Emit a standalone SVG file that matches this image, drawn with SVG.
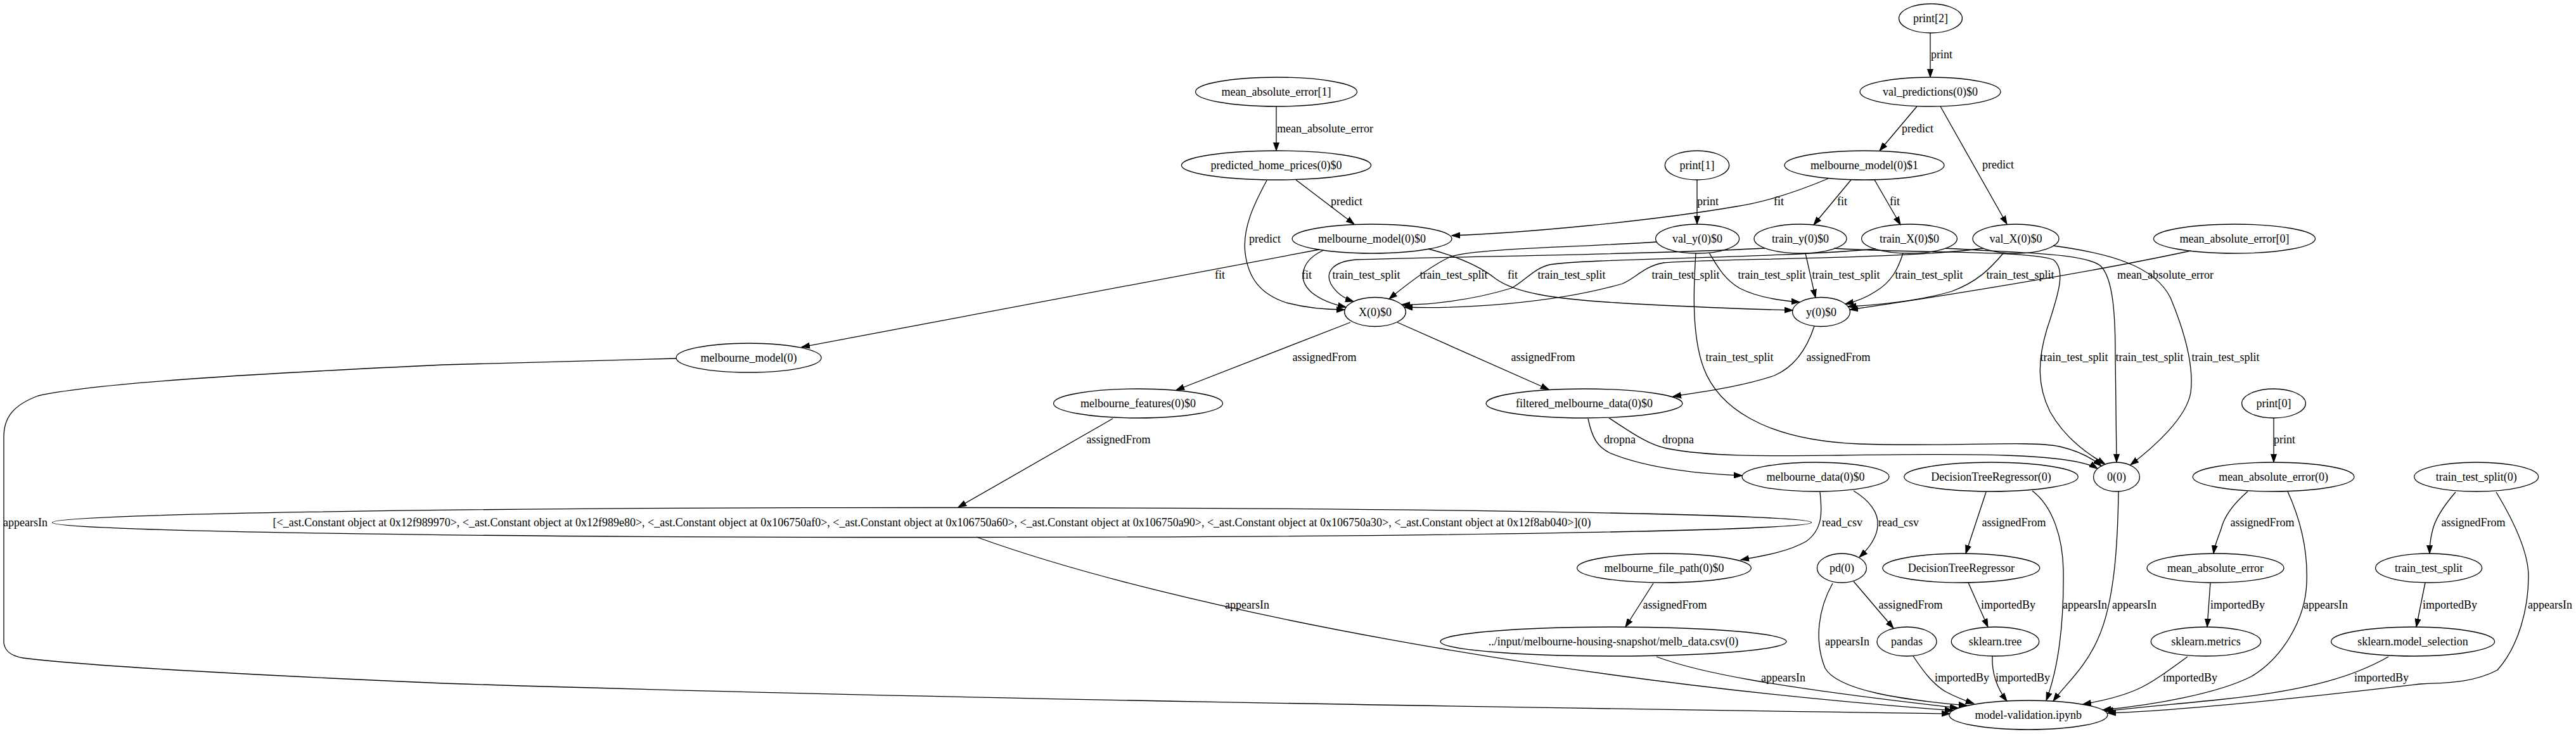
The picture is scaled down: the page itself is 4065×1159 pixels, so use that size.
<svg xmlns="http://www.w3.org/2000/svg" width="4065" height="1159" viewBox="0 0 4065 1159">
<style>
.n ellipse{fill:none;stroke:#000;stroke-width:1.3}
text{font-family:"Liberation Serif","Times New Roman",serif;font-size:18px;text-anchor:middle;fill:#000}
.e path{fill:none;stroke:#000;stroke-width:1.3;marker-end:url(#ah)}
</style>
<defs>
<marker id="ah" markerUnits="userSpaceOnUse" markerWidth="14" markerHeight="10" refX="13" refY="5" orient="auto">
<path d="M0,0.5 L13,5 L0,9.5 z" fill="#000" stroke="#000" stroke-width="1"/>
</marker>
</defs>
<rect width="4065" height="1159" fill="#fff"/>
<g id="edges" class="e">
<g><path d="M3046,52 L3046,122"/><text x="3064" y="92">print</text></g>
<g><path d="M3025,168 L2966,238"/><text x="3026" y="209">predict</text></g>
<g><path d="M3062,168 L3167,354"/><text x="3153" y="266">predict</text></g>
<g><path d="M2014,168 L2014,238"/><text x="2091" y="209">mean_absolute_error</text></g>
<g><path d="M2045,284 L2137,354"/><text x="2125" y="324">predict</text></g>
<g><path d="M1999,285 C1980,320 1960,360 1965,400 C1970,440 1990,465 2030,478 C2060,486 2095,489 2122,489"/><text x="1996" y="383">predict</text></g>
<g><path d="M2678,284 L2678,354"/><text x="2695" y="324">print</text></g>
<g><path d="M2885,282 C2830,305 2780,320 2740,326 C2600,350 2400,368 2291,372"/><text x="2807" y="324">fit</text></g>
<g><path d="M2921,284 L2862,355"/><text x="2907" y="324">fit</text></g>
<g><path d="M2958,284 L2999,355"/><text x="2990" y="324">fit</text></g>
<g><path d="M2082,394 L1265,548"/><text x="1925" y="440">fit</text></g>
<g><path d="M2089,395 C2055,410 2045,440 2070,462 C2085,474 2105,481 2124,485"/><text x="2062" y="440">fit</text></g>
<g><path d="M2254,393 C2300,405 2335,420 2360,440 C2390,462 2450,472 2550,478 C2650,484 2760,488 2829,490"/><text x="2387" y="440">fit</text></g>
<g><path d="M2785,392 C2600,402 2300,405 2140,410 C2100,413 2092,432 2100,448 C2108,462 2120,471 2136,476"/><text x="2156" y="440">train_test_split</text></g>
<g><path d="M2614,382 C2500,390 2330,392 2290,405 C2260,418 2225,445 2192,472"/><text x="2294" y="440">train_test_split</text></g>
<g><path d="M2960,393 C2800,408 2500,408 2445,418 C2420,424 2405,445 2385,455 C2320,475 2250,482 2212,481"/><text x="2480" y="440">train_test_split</text></g>
<g><path d="M3130,392 C3000,410 2700,408 2625,415 C2595,420 2580,440 2560,448 C2450,480 2300,488 2216,485"/><text x="2660" y="440">train_test_split</text></g>
<g><path d="M2697,399 C2710,420 2720,440 2745,455 C2770,468 2800,474 2840,477"/><text x="2796" y="440">train_test_split</text></g>
<g><path d="M2849,400 C2855,425 2860,450 2865,470"/><text x="2913" y="440">train_test_split</text></g>
<g><path d="M3003,400 C2995,425 2985,445 2960,460 C2945,470 2925,477 2912,480"/><text x="3044" y="440">train_test_split</text></g>
<g><path d="M3162,399 C3140,425 3120,445 3080,460 C3030,475 2960,482 2916,484"/><text x="3188" y="440">train_test_split</text></g>
<g><path d="M3457,396 C3300,430 3050,470 2919,489"/><text x="3417" y="440">mean_absolute_error</text></g>
<g><path d="M2676,400 C2672,460 2670,530 2688,580 C2710,640 2780,695 2934,701 C3080,706 3200,695 3250,705 C3280,712 3300,722 3316,736"/><text x="2745" y="570">train_test_split</text></g>
<g><path d="M2894,392 C3000,400 3200,395 3240,410 C3260,425 3250,460 3230,520 C3215,570 3215,610 3235,650 C3260,695 3300,720 3322,733"/><text x="3273" y="570">train_test_split</text></g>
<g><path d="M3070,392 C3200,400 3290,400 3315,420 C3335,440 3338,500 3338,560 C3339,640 3340,700 3340,730"/><text x="3392" y="570">train_test_split</text></g>
<g><path d="M3240,388 C3330,400 3400,420 3425,470 C3450,530 3462,580 3457,620 C3450,660 3400,705 3362,734"/><text x="3512" y="570">train_test_split</text></g>
<g><path d="M2131,509 L1856,616"/><text x="2090" y="570">assignedFrom</text></g>
<g><path d="M2205,509 L2444,615"/><text x="2435" y="570">assignedFrom</text></g>
<g><path d="M2863,515 C2850,555 2830,580 2800,593 C2750,610 2690,618 2640,626"/><text x="2901" y="570">assignedFrom</text></g>
<g><path d="M1756,661 L1512,801"/><text x="1765" y="700">assignedFrom</text></g>
<g><path d="M2506,661 C2512,690 2520,705 2540,715 C2600,740 2680,748 2749,751"/><text x="2556" y="700">dropna</text></g>
<g><path d="M2539,660 C2570,680 2600,702 2630,708 C2700,722 2800,720 2900,719 C3100,716 3270,715 3310,740"/><text x="2648" y="700">dropna</text></g>
<g><path d="M2872,777 C2875,805 2878,835 2850,855 C2820,872 2780,878 2747,884"/><text x="2907" y="831">read_csv</text></g>
<g><path d="M2925,775 C2950,790 2965,810 2963,830 C2962,848 2950,865 2934,880"/><text x="2996" y="831">read_csv</text></g>
<g><path d="M2609,921 L2565,990"/><text x="2643" y="961">assignedFrom</text></g>
<g><path d="M2614,1037 C2680,1062 2800,1085 3090,1118"/><text x="2814" y="1076">appearsIn</text></g>
<g><path d="M1541,848 C1850,960 2450,1075 3082,1122"/><text x="1968" y="961">appearsIn</text></g>
<g><path d="M1067,566 L700,576 C400,590 150,605 60,625 C20,640 6,660 6,690 L6,1015 C8,1030 20,1038 45,1040 C150,1052 400,1066 700,1079 C1500,1105 2600,1120 3077,1127"/><text x="40" y="831">appearsIn</text></g>
<g><path d="M2925,918 L2988,992"/><text x="3015" y="961">assignedFrom</text></g>
<g><path d="M2892,921 C2870,960 2862,1010 2880,1055 C2900,1090 3000,1105 3104,1114"/><text x="2915" y="1019">appearsIn</text></g>
<g><path d="M3019,1036 C3035,1060 3050,1080 3070,1092 C3085,1100 3100,1106 3115,1111"/><text x="3096" y="1076">importedBy</text></g>
<g><path d="M3134,777 L3102,874"/><text x="3178" y="831">assignedFrom</text></g>
<g><path d="M3207,775 C3240,800 3255,850 3256,900 C3257,980 3250,1050 3229,1106"/><text x="3290" y="961">appearsIn</text></g>
<g><path d="M3106,920 L3137,990"/><text x="3169" y="961">importedBy</text></g>
<g><path d="M3144,1036 C3143,1060 3150,1085 3167,1107"/><text x="3192" y="1076">importedBy</text></g>
<g><path d="M3343,776 C3342,850 3338,950 3310,1010 C3290,1055 3260,1080 3240,1107"/><text x="3368" y="961">appearsIn</text></g>
<g><path d="M3588,660 L3588,730"/><text x="3605" y="700">print</text></g>
<g><path d="M3547,776 C3525,795 3510,815 3505,835 C3500,850 3495,860 3493,874"/><text x="3570" y="831">assignedFrom</text></g>
<g><path d="M3610,776 C3630,820 3642,870 3640,920 C3638,980 3600,1040 3553,1068 C3500,1095 3400,1113 3318,1121"/><text x="3670" y="961">appearsIn</text></g>
<g><path d="M3488,920 L3483,990"/><text x="3531" y="961">importedBy</text></g>
<g><path d="M3452,1037 C3420,1060 3400,1075 3380,1085 C3350,1100 3310,1108 3287,1112"/><text x="3456" y="1076">importedBy</text></g>
<g><path d="M3875,777 C3855,800 3842,820 3838,840 C3835,852 3834,862 3834,874"/><text x="3903" y="831">assignedFrom</text></g>
<g><path d="M3939,777 C3965,820 3990,870 3990,910 C3990,960 3975,1020 3941,1058 C3900,1080 3850,1078 3820,1080 C3650,1100 3450,1122 3326,1126"/><text x="4024" y="961">appearsIn</text></g>
<g><path d="M3827,920 L3813,990"/><text x="3866" y="961">importedBy</text></g>
<g><path d="M3769,1037 C3720,1065 3650,1090 3500,1105 C3420,1113 3360,1118 3322,1123"/><text x="3758" y="1076">importedBy</text></g>
</g>
<g id="n_print2" class="n"><ellipse cx="3046.5" cy="29" rx="50" ry="23"/><text x="3046.5" y="35">print[2]</text></g>
<g id="n_val_predictions" class="n"><ellipse cx="3046" cy="145" rx="111" ry="23"/><text x="3046" y="151">val_predictions(0)$0</text></g>
<g id="n_mae1" class="n"><ellipse cx="2014" cy="145" rx="127.5" ry="23"/><text x="2014" y="151">mean_absolute_error[1]</text></g>
<g id="n_predicted_home_prices" class="n"><ellipse cx="2014" cy="261" rx="149.6" ry="23"/><text x="2014" y="267">predicted_home_prices(0)$0</text></g>
<g id="n_model1" class="n"><ellipse cx="2942" cy="261" rx="126" ry="23"/><text x="2942" y="267">melbourne_model(0)$1</text></g>
<g id="n_print1" class="n"><ellipse cx="2678" cy="261" rx="50.7" ry="23"/><text x="2678" y="267">print[1]</text></g>
<g id="n_model0" class="n"><ellipse cx="2165" cy="377" rx="126" ry="23"/><text x="2165" y="383">melbourne_model(0)$0</text></g>
<g id="n_val_y" class="n"><ellipse cx="2678.6" cy="377" rx="66" ry="23"/><text x="2678.6" y="383">val_y(0)$0</text></g>
<g id="n_train_y" class="n"><ellipse cx="2841" cy="377" rx="73" ry="23"/><text x="2841" y="383">train_y(0)$0</text></g>
<g id="n_train_X" class="n"><ellipse cx="3013" cy="377" rx="75.4" ry="23"/><text x="3013" y="383">train_X(0)$0</text></g>
<g id="n_val_X" class="n"><ellipse cx="3181" cy="377" rx="68" ry="23"/><text x="3181" y="383">val_X(0)$0</text></g>
<g id="n_mae0" class="n"><ellipse cx="3526" cy="377" rx="127.6" ry="23"/><text x="3526" y="383">mean_absolute_error[0]</text></g>
<g id="n_X" class="n"><ellipse cx="2170" cy="492.5" rx="48.4" ry="23"/><text x="2170" y="498.5">X(0)$0</text></g>
<g id="n_y" class="n"><ellipse cx="2874" cy="492.5" rx="45.5" ry="23"/><text x="2874" y="498.5">y(0)$0</text></g>
<g id="n_model" class="n"><ellipse cx="1181.5" cy="565" rx="114.5" ry="23"/><text x="1181.5" y="571">melbourne_model(0)</text></g>
<g id="n_features" class="n"><ellipse cx="1796" cy="637" rx="133.5" ry="23"/><text x="1796" y="643">melbourne_features(0)$0</text></g>
<g id="n_filtered" class="n"><ellipse cx="2500" cy="637" rx="155" ry="23"/><text x="2500" y="643">filtered_melbourne_data(0)$0</text></g>
<g id="n_print0" class="n"><ellipse cx="3588" cy="637" rx="50.4" ry="23"/><text x="3588" y="643">print[0]</text></g>
<g id="n_mdata" class="n"><ellipse cx="2865" cy="753" rx="116" ry="23"/><text x="2865" y="759">melbourne_data(0)$0</text></g>
<g id="n_dtr0" class="n"><ellipse cx="3142" cy="753" rx="137.3" ry="23"/><text x="3142" y="759">DecisionTreeRegressor(0)</text></g>
<g id="n_zero" class="n"><ellipse cx="3340" cy="753" rx="36.4" ry="23"/><text x="3340" y="759">0(0)</text></g>
<g id="n_mae_call" class="n"><ellipse cx="3587.6" cy="753" rx="127.4" ry="23"/><text x="3587.6" y="759">mean_absolute_error(0)</text></g>
<g id="n_tts0" class="n"><ellipse cx="3907.7" cy="753" rx="98" ry="23"/><text x="3907.7" y="759">train_test_split(0)</text></g>
<g id="n_list" class="n"><ellipse cx="1470.5" cy="825" rx="1388" ry="23.5"/><text x="1470.5" y="831">[&lt;_ast.Constant object at 0x12f989970&gt;, &lt;_ast.Constant object at 0x12f989e80&gt;, &lt;_ast.Constant object at 0x106750af0&gt;, &lt;_ast.Constant object at 0x106750a60&gt;, &lt;_ast.Constant object at 0x106750a90&gt;, &lt;_ast.Constant object at 0x106750a30&gt;, &lt;_ast.Constant object at 0x12f8ab040&gt;](0)</text></g>
<g id="n_file_path" class="n"><ellipse cx="2626" cy="897" rx="137.4" ry="23"/><text x="2626" y="903">melbourne_file_path(0)$0</text></g>
<g id="n_pd" class="n"><ellipse cx="2906.4" cy="897" rx="39" ry="23"/><text x="2906.4" y="903">pd(0)</text></g>
<g id="n_dtr" class="n"><ellipse cx="3094.8" cy="897" rx="124" ry="23"/><text x="3094.8" y="903">DecisionTreeRegressor</text></g>
<g id="n_mae" class="n"><ellipse cx="3496" cy="897" rx="108" ry="23"/><text x="3496" y="903">mean_absolute_error</text></g>
<g id="n_tts" class="n"><ellipse cx="3832.6" cy="897" rx="84" ry="23"/><text x="3832.6" y="903">train_test_split</text></g>
<g id="n_csv" class="n"><ellipse cx="2546" cy="1013" rx="273" ry="23"/><text x="2546" y="1019">../input/melbourne-housing-snapshot/melb_data.csv(0)</text></g>
<g id="n_pandas" class="n"><ellipse cx="3009" cy="1013" rx="47" ry="23"/><text x="3009" y="1019">pandas</text></g>
<g id="n_sktree" class="n"><ellipse cx="3148.5" cy="1013" rx="69.2" ry="23"/><text x="3148.5" y="1019">sklearn.tree</text></g>
<g id="n_skmetrics" class="n"><ellipse cx="3481" cy="1013" rx="86.7" ry="23"/><text x="3481" y="1019">sklearn.metrics</text></g>
<g id="n_skms" class="n"><ellipse cx="3807.6" cy="1013" rx="129" ry="23"/><text x="3807.6" y="1019">sklearn.model_selection</text></g>
<g id="n_notebook" class="n"><ellipse cx="3200.8" cy="1129" rx="125" ry="23"/><text x="3200.8" y="1135">model-validation.ipynb</text></g>
</svg>
